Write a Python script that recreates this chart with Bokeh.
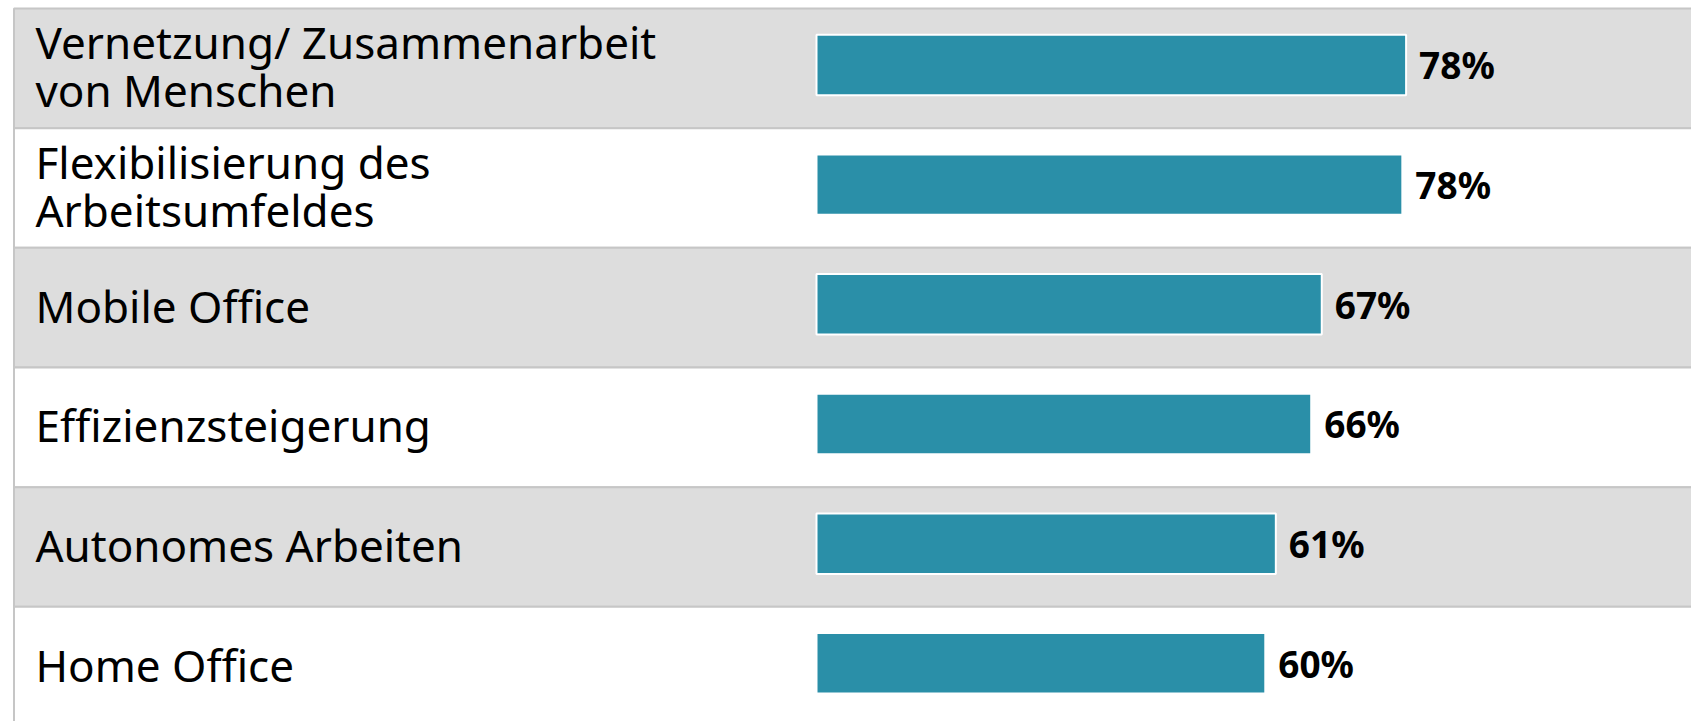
from bokeh.plotting import figure
from bokeh.models import Range1d, ColumnDataSource
from bokeh.core.properties import value
from bokeh.embed import file_html
from bokeh.resources import INLINE

# ---- data ----
categories = [
    "Vernetzung/ Zusammenarbeit\nvon Menschen",
    "Flexibilisierung des\nArbeitsumfeldes",
    "Mobile Office",
    "Effizienzsteigerung",
    "Autonomes Arbeiten",
    "Home Office",
]
values = [78.3, 77.8, 67.1, 65.7, 61.0, 59.6]
value_labels = ["78%", "78%", "67%", "66%", "61%", "60%"]

# ---- layout constants (pixels) ----
W, H = 1691, 721
TOP_PX = 8.0
ROW_PX = 119.67
PX_PER_PCT = 7.53
BAR0_PX = 816.0            # screen x of the 0% line
x_start = -BAR0_PX / PX_PER_PCT
x_end = (W - BAR0_PX) / PX_PER_PCT
table_left = (13.5 - BAR0_PX) / PX_PER_PCT
label_x = (35 - BAR0_PX) / PX_PER_PCT
LINE_PX = 48.0

n = len(categories)
idx = list(range(n))

p = figure(width=W, height=H, output_backend="svg", toolbar_location=None,
           x_range=Range1d(x_start, x_end),
           y_range=Range1d((H - TOP_PX) / ROW_PX, -TOP_PX / ROW_PX),
           min_border=0, outline_line_color=None, background_fill_color="white",
           border_fill_color="white")
p.axis.visible = False
p.grid.visible = False

rows = ColumnDataSource(dict(
    top=[i for i in idx],
    bottom=[i + 1 for i in idx],
    fill=["#DDDDDD" if i % 2 == 0 else "#FFFFFF" for i in idx],
))
p.quad(left=table_left, right=x_end + 50, top="top", bottom="bottom", source=rows,
       fill_color="fill", line_color="#C6C6C6", line_width=2)

bars = ColumnDataSource(dict(
    y=[i + 0.5 - 0.028 for i in idx],
    v=values,
    lab=value_labels,
))
p.hbar(y="y", left=0, right="v", height=0.505, source=bars,
       fill_color="#2A8FA8", line_color="white", line_width=2)

p.text(x="v", y="y", text="lab", source=bars, x_offset=13,
       text_font=value("Noto Sans"), text_font_style="bold",
       text_font_size="37px", text_color="#000000",
       text_align="left", text_baseline="middle")

# category labels, one glyph per text line
ly, lt = [], []
for i, c in enumerate(categories):
    lines = c.split("\n")
    m = len(lines)
    for k, t in enumerate(lines):
        ly.append(i + 0.5 + ((k - (m - 1) / 2) * LINE_PX - 2.0) / ROW_PX)
        lt.append(t)
p.text(x=label_x, y=ly, text=lt,
       text_font=value("Noto Sans"), text_font_size="44px",
       text_color="#000000", text_align="left", text_baseline="middle")

open("out.html", "w").write(file_html(p, INLINE))
